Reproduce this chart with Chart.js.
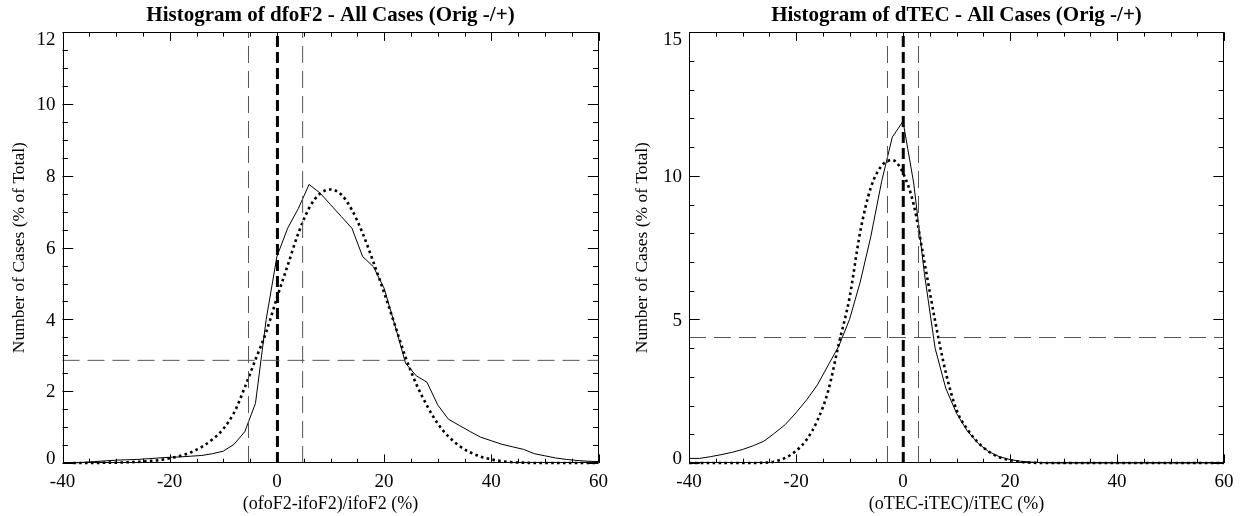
<!DOCTYPE html>
<html><head><meta charset="utf-8">
<script src="https://cdn.jsdelivr.net/npm/chart.js@4.4.1/dist/chart.umd.min.js"></script>
<style>
html,body{margin:0;padding:0;background:#fff;width:1246px;height:516px;overflow:hidden}
.wrap{position:absolute;top:0;width:623px;height:516px}
canvas{display:block}
</style></head><body>
<div class="wrap" style="left:0"><canvas id="c1" width="623" height="516"></canvas></div>
<div class="wrap" style="left:623px"><canvas id="c2" width="623" height="516"></canvas></div>
<script>
// ---------- Data: dfoF2 panel ----------
const fof2Bins = [-38,-36,-34,-32,-30,-28,-26,-24,-22,-20,-18,-16,-14,-12,-10,-8,-6,-4,-2,
  0,2,4,6,8,10,12,14,16,18,20,22,24,26,28,30,32,34,36,38,40,42,44,46,48,50,52,54,56,58,60];
const fof2Observed = [0.00,0.02,0.04,0.06,0.08,0.09,0.10,0.12,0.14,0.16,0.17,0.19,0.21,0.26,0.33,0.52,0.87,1.66,4.00,
  5.75,6.54,7.09,7.76,7.53,7.20,6.87,6.54,5.75,5.47,4.87,3.85,2.78,2.43,2.25,1.62,1.22,1.05,0.88,0.72,0.62,0.52,0.45,0.38,0.26,0.20,0.14,0.10,0.07,0.05,0.04];
const fof2Fit = [0.00,0.00,0.00,0.01,0.01,0.02,0.03,0.05,0.08,0.13,0.20,0.30,0.45,0.66,0.95,1.40,2.10,2.88,3.65,
  4.60,5.50,6.40,7.10,7.50,7.62,7.48,7.05,6.40,5.60,4.75,3.85,2.95,2.20,1.60,1.10,0.74,0.48,0.30,0.18,0.10,0.05,0.02,0.01,0,0,0,0,0,0,0];
const fof2VLines = [-5.3, 0.1, 4.8];   // lower, centre, upper
const fof2HLine = 2.86;

// ---------- Data: dTEC panel ----------
const tecBins = [-40,-38,-36,-34,-32,-30,-28,-26,-24,-22,-20,-18,-16,-14,-12,-10,-8,-6,-4,-2,
  0,2,4,6,8,10,12,14,16,18,20,22,24,26,28,30,32,34,36,38,40,42,44,46,48,50,52,54,56,58,60];
const tecObserved = [0.16,0.16,0.22,0.29,0.37,0.47,0.60,0.76,1.04,1.34,1.75,2.20,2.72,3.40,4.07,5.00,6.30,7.90,9.80,11.35,
  11.90,9.75,6.60,4.00,2.60,1.73,1.12,0.69,0.40,0.22,0.12,0.06,0.03,0.01,0,0,0,0,0,0,0,0,0,0,0,0,0,0,0,0,0];
const tecFit = [0,0,0,0,0,0,0,0.01,0.05,0.18,0.42,0.82,1.48,2.50,4.15,5.75,8.05,9.60,10.35,10.55,
  10.10,9.00,7.00,4.95,3.15,1.85,1.18,0.72,0.40,0.20,0.10,0.04,0.01,0,0,0,0,0,0,0,0,0,0,0,0,0,0,0,0,0,0];
const tecVLines = [-2.9, 0.05, 2.9];
const tecHLine = 4.37;

// ---------- Axis ticks ----------
const xTickLabels = ['-40','-20','0','20','40','60'];
const fof2YTicks = ['0','2','4','6','8','10','12'];
const tecYTicks = ['0','5','10','15'];

const FONT = "'Liberation Serif','Times New Roman',serif";
const TICK_SIZE = 19;

function pts(xs, ys){ return xs.map((x,i)=>({x:x, y:ys[i]})); }

const frameTicks = {
  id: 'frameTicks',
  afterDatasetsDraw(chart, args, o) {
    const {ctx, chartArea: a, scales: {x, y}} = chart;
    ctx.save();
    ctx.strokeStyle = '#000';
    ctx.lineWidth = 1;
    ctx.beginPath();
    ctx.rect(Math.round(a.left)+0.5, Math.round(a.top)+0.5, Math.round(a.right-a.left)-1, Math.round(a.bottom-a.top)-1);
    ctx.stroke();
    ctx.beginPath();
    for (let v = x.min; v <= x.max + 1e-9; v += o.xMinor) {
      const p = Math.round(x.getPixelForValue(v)) + 0.5;
      const major = Math.abs(((v - x.min) / o.xMajor) - Math.round((v - x.min) / o.xMajor)) < 1e-6;
      const len = major ? 8.6 : 4.3;
      ctx.moveTo(p, a.bottom); ctx.lineTo(p, a.bottom - len);
      ctx.moveTo(p, a.top); ctx.lineTo(p, a.top + len);
    }
    for (let v = y.min; v <= y.max + 1e-9; v += o.yMinor) {
      const p = Math.round(y.getPixelForValue(v)) + 0.5;
      const major = Math.abs(((v - y.min) / o.yMajor) - Math.round((v - y.min) / o.yMajor)) < 1e-6;
      const len = major ? 10.7 : 5.4;
      ctx.moveTo(a.left, p); ctx.lineTo(a.left + len, p);
      ctx.moveTo(a.right, p); ctx.lineTo(a.right - len, p);
    }
    ctx.stroke();
    // y tick labels (first/last kept inside the axis range, as in the original)
    ctx.fillStyle = '#000';
    ctx.font = TICK_SIZE + 'px ' + FONT;
    ctx.textAlign = 'right';
    ctx.textBaseline = 'alphabetic';
    const cap = TICK_SIZE * 0.66;
    o.yLabels.forEach((lab, i) => {
      const v = y.min + i * o.yMajor;
      const p = y.getPixelForValue(v);
      let base;
      if (i === 0) base = a.bottom + 1;
      else if (i === o.yLabels.length - 1) base = a.top + cap;
      else base = p + cap / 2;
      ctx.fillText(lab, a.left - 7, base);
    });
    ctx.restore();
  }
};

function makeChart(id, cfg) {
  const yMax = cfg.yMax;
  const thin = {borderColor:'#555', borderWidth:1, borderDash:[17,8], pointRadius:0, fill:false, clip:false};
  const datasets = [
    Object.assign({label:'lower', data:[{x:cfg.vlines[0],y:0},{x:cfg.vlines[0],y:yMax}]}, thin),
    Object.assign({label:'upper', data:[{x:cfg.vlines[2],y:0},{x:cfg.vlines[2],y:yMax}]}, thin),
    Object.assign({label:'level', data:[{x:-40,y:cfg.hline},{x:60,y:cfg.hline}]}, thin),
    {label:'centre', data:[{x:cfg.vlines[1],y:0},{x:cfg.vlines[1],y:yMax}], borderColor:'#000', borderWidth:3, borderDash:[11,5], pointRadius:0, clip:false},
    {label:'observed', data:pts(cfg.bins, cfg.obs), borderColor:'#000', borderWidth:1, pointRadius:0, tension:0, clip:false},
    {label:'fit', data:pts(cfg.bins, cfg.fit), borderColor:'#000', borderWidth:2.6, borderDash:[2.6,3.3], pointRadius:0, cubicInterpolationMode:'monotone', clip:false}
  ];
  return new Chart(document.getElementById(id), {
    type: 'line',
    data: {datasets},
    plugins: [frameTicks],
    options: {
      responsive:false, animation:false, devicePixelRatio:1,
      layout:{padding:{left:0, right:cfg.padRight, top:0, bottom:0}},
      plugins:{
        legend:{display:false}, tooltip:{enabled:false},
        title:{display:true, text:cfg.title, color:'#000', fullSize:false,
          font:{family:FONT, size:21, weight:'bold'}, padding:{top:3, bottom:4.1}},
        frameTicks:{xMinor:5, xMajor:20, yMinor:cfg.yMinor, yMajor:cfg.yMajor, yLabels:cfg.yTicks}
      },
      scales:{
        x:{type:'linear', min:-40, max:60,
          grid:{display:false, drawTicks:false}, border:{display:false},
          ticks:{stepSize:20, color:'#000', font:{family:FONT, size:TICK_SIZE}, padding:8, maxRotation:0,
            callback:(v)=>{ const i = (v+40)/20; return Number.isInteger(i) ? xTickLabels[i] : ''; }},
          title:{display:true, text:cfg.xTitle, color:'#000', font:{family:FONT, size:18}, padding:{top:0,bottom:1}},
          afterFit:(s)=>{ s.height = 53; }
        },
        y:{type:'linear', min:0, max:yMax,
          grid:{display:false, drawTicks:false}, border:{display:false},
          ticks:{display:false, stepSize:cfg.yMajor},
          title:{display:true, text:'Number of Cases (% of Total)', color:'#000', font:{family:FONT, size:17.5}, padding:{top:9,bottom:0}},
          afterFit:(s)=>{ s.width = cfg.yWidth; }
        }
      }
    }
  });
}

makeChart('c1', {title:'Histogram of dfoF2 - All Cases (Orig -/+)', xTitle:'(ofoF2-ifoF2)/ifoF2 (%)',
  bins:fof2Bins, obs:fof2Observed, fit:fof2Fit, vlines:fof2VLines, hline:fof2HLine,
  yMax:12, yMajor:2, yMinor:0.5, yTicks:fof2YTicks, yWidth:62.5, padRight:24.5});
makeChart('c2', {title:'Histogram of dTEC - All Cases (Orig -/+)', xTitle:'(oTEC-iTEC)/iTEC (%)',
  bins:tecBins, obs:tecObserved, fit:tecFit, vlines:tecVLines, hline:tecHLine,
  yMax:15, yMajor:5, yMinor:1, yTicks:tecYTicks, yWidth:66, padRight:22});
</script>
</body></html>
